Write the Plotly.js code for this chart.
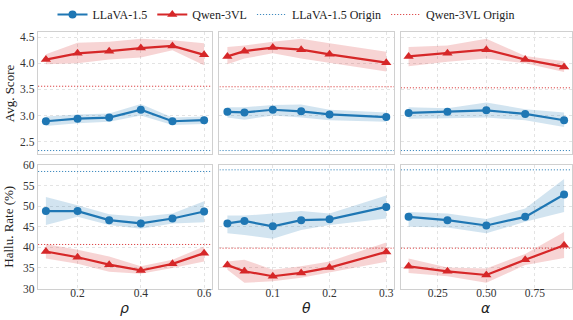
<!DOCTYPE html>
<html><head><meta charset="utf-8">
<script src="https://cdn.plot.ly/plotly-3.0.1.min.js"></script>
<style>html,body{margin:0;padding:0;background:#fff}#c{width:573px;height:320px}</style>
</head><body><div id="c"></div>
<script>
// ---- data ----
const rho = [0.1, 0.2, 0.3, 0.4, 0.5, 0.6];
const theta = [0.02, 0.05, 0.1, 0.15, 0.2, 0.3];
const alpha = [0.1, 0.3, 0.5, 0.7, 0.9];

// Avg. Score
const llavaScoreRho = [2.89, 2.94, 2.96, 3.11, 2.89, 2.91];
const llavaScoreRhoLo = [2.80, 2.85, 2.88, 3.00, 2.82, 2.84];
const llavaScoreRhoHi = [2.98, 3.02, 3.04, 3.22, 2.96, 2.98];
const qwenScoreRho = [4.07, 4.19, 4.23, 4.29, 4.33, 4.16];
const qwenScoreRhoLo = [3.98, 4.00, 4.07, 4.11, 4.25, 3.96];
const qwenScoreRhoHi = [4.17, 4.39, 4.41, 4.47, 4.44, 4.38];

const llavaScoreTheta = [3.07, 3.06, 3.11, 3.08, 3.02, 2.97];
const llavaScoreThetaLo = [2.96, 2.92, 3.00, 2.96, 2.91, 2.88];
const llavaScoreThetaHi = [3.16, 3.16, 3.20, 3.21, 3.11, 3.06];
const qwenScoreTheta = [4.13, 4.23, 4.30, 4.26, 4.17, 4.01];
const qwenScoreThetaLo = [3.98, 4.09, 4.19, 4.09, 4.00, 3.84];
const qwenScoreThetaHi = [4.31, 4.34, 4.41, 4.47, 4.38, 4.22];

const llavaScoreAlpha = [3.05, 3.07, 3.10, 3.03, 2.91];
const llavaScoreAlphaLo = [2.94, 2.95, 2.96, 2.91, 2.78];
const llavaScoreAlphaHi = [3.16, 3.14, 3.25, 3.12, 3.06];
const qwenScoreAlpha = [4.13, 4.19, 4.26, 4.07, 3.93];
const qwenScoreAlphaLo = [3.94, 4.03, 4.09, 4.00, 3.83];
const qwenScoreAlphaHi = [4.31, 4.34, 4.47, 4.14, 4.04];

// Hallu. Rate (%)
const llavaHalluRho = [48.8, 48.8, 46.6, 45.8, 47.0, 48.7];
const llavaHalluRhoLo = [45.4, 47.4, 45.4, 44.5, 45.8, 46.1];
const llavaHalluRhoHi = [52.2, 50.2, 48.0, 47.4, 48.2, 51.2];
const qwenHalluRho = [39.0, 37.6, 35.8, 34.4, 36.0, 38.6];
const qwenHalluRhoLo = [37.3, 36.0, 34.1, 33.6, 35.0, 36.6];
const qwenHalluRhoHi = [40.8, 39.4, 37.8, 35.4, 37.0, 40.2];

const llavaHalluTheta = [45.8, 46.4, 45.1, 46.6, 46.8, 49.8];
const llavaHalluThetaLo = [43.4, 43.0, 42.1, 44.2, 45.4, 47.0];
const llavaHalluThetaHi = [47.7, 47.7, 48.2, 48.8, 48.2, 52.6];
const qwenHalluTheta = [35.7, 34.2, 33.0, 33.8, 35.1, 38.9];
const qwenHalluThetaLo = [34.6, 31.4, 31.8, 32.6, 33.8, 36.5];
const qwenHalluThetaHi = [36.6, 37.0, 34.6, 35.4, 36.6, 41.2];

const llavaHalluAlpha = [47.4, 46.6, 45.3, 47.4, 52.8];
const llavaHalluAlphaLo = [45.0, 44.8, 43.4, 46.2, 48.6];
const llavaHalluAlphaHi = [48.6, 48.2, 46.9, 49.4, 56.6];
const qwenHalluAlpha = [35.4, 34.2, 33.3, 37.0, 40.5];
const qwenHalluAlphaLo = [33.8, 33.0, 31.4, 35.7, 37.4];
const qwenHalluAlphaHi = [37.3, 35.1, 34.9, 38.4, 43.7];

// Origin baselines (per panel)
const llavaOriginScore = [2.33, 2.33, 2.33];
const qwenOriginScore = [3.56, 3.55, 3.53];
const llavaOriginHallu = [58.4, 58.8, 58.8];
const qwenOriginHallu = [40.7, 39.8, 39.8];

const seriesNames = ['LLaVA-1.5', 'Qwen-3VL', 'LLaVA-1.5 Origin', 'Qwen-3VL Origin'];
const xLabels = ['ρ', 'θ', 'α'];
const yLabels = ['Avg. Score', 'Hallu. Rate (%)'];

// ---- styling ----
const BLUE = '#1f77b4', RED = '#d62728';
const BLUE_F = 'rgba(31,119,180,0.2)', RED_F = 'rgba(214,39,40,0.2)';
const SERIF = '"Liberation Serif","Times New Roman",serif';
const xRanges = [[0.075, 0.625], [0.006, 0.314], [0.06, 0.94]];
const xTicks = [[0.2, 0.4, 0.6], [0.1, 0.2, 0.3], [0.25, 0.5, 0.75]];
const xFmt = ['.1f', '.1f', '.2f'];
const xDomains = [[0.0663, 0.370], [0.383, 0.688], [0.6995, 0.998]];
const yDomains = [[0.528, 0.916], [0.100, 0.494]];
const yRanges = [[2.26, 4.59], [30, 60]];

const xs = [rho, theta, alpha];
const score = [
  [llavaScoreRho, llavaScoreRhoLo, llavaScoreRhoHi, qwenScoreRho, qwenScoreRhoLo, qwenScoreRhoHi],
  [llavaScoreTheta, llavaScoreThetaLo, llavaScoreThetaHi, qwenScoreTheta, qwenScoreThetaLo, qwenScoreThetaHi],
  [llavaScoreAlpha, llavaScoreAlphaLo, llavaScoreAlphaHi, qwenScoreAlpha, qwenScoreAlphaLo, qwenScoreAlphaHi]];
const hallu = [
  [llavaHalluRho, llavaHalluRhoLo, llavaHalluRhoHi, qwenHalluRho, qwenHalluRhoLo, qwenHalluRhoHi],
  [llavaHalluTheta, llavaHalluThetaLo, llavaHalluThetaHi, qwenHalluTheta, qwenHalluThetaLo, qwenHalluThetaHi],
  [llavaHalluAlpha, llavaHalluAlphaLo, llavaHalluAlphaHi, qwenHalluAlpha, qwenHalluAlphaLo, qwenHalluAlphaHi]];
const origins = [[llavaOriginScore, qwenOriginScore], [llavaOriginHallu, qwenOriginHallu]];

const traces = [];
const layout = {
  width: 573, height: 320, margin: {l: 0, r: 0, t: 0, b: 0},
  paper_bgcolor: '#fff', plot_bgcolor: '#fff', showlegend: true,
  font: {family: SERIF, size: 11, color: '#333'},
  legend: {orientation: 'h', x: 0.5, xanchor: 'center', y: 1.02, yanchor: 'top',
           font: {family: SERIF, size: 12, color: '#222'}, itemwidth: 30, traceorder: 'normal'},
  annotations: []
};

function band(x, lo, hi, color, xa, ya) {
  traces.push({x: x.concat(x.slice().reverse()), y: hi.concat(lo.slice().reverse()),
    fill: 'toself', fillcolor: color, line: {width: 0}, mode: 'lines',
    xaxis: xa, yaxis: ya, showlegend: false, hoverinfo: 'skip'});
}

const DOT = '1.2px,1.8px';
let axIdx = 0;
for (let r = 0; r < 2; r++) {
  const data = r === 0 ? score : hallu;
  for (let c = 0; c < 3; c++) {
    axIdx++;
    const xa = 'x' + (axIdx === 1 ? '' : axIdx), ya = 'y' + (axIdx === 1 ? '' : axIdx);
    const xk = 'xaxis' + (axIdx === 1 ? '' : axIdx), yk = 'yaxis' + (axIdx === 1 ? '' : axIdx);
    const d = data[c], x = xs[c];
    const first = (axIdx === 1);
    band(x, d[1], d[2], BLUE_F, xa, ya);
    band(x, d[4], d[5], RED_F, xa, ya);
    traces.push({x: [xRanges[c][0], xRanges[c][1]], y: [origins[r][0][c], origins[r][0][c]],
      mode: 'lines', line: {color: BLUE, width: 1, dash: DOT}, name: seriesNames[2],
      legendrank: 3, showlegend: first, xaxis: xa, yaxis: ya, opacity: 0.85});
    traces.push({x: [xRanges[c][0], xRanges[c][1]], y: [origins[r][1][c], origins[r][1][c]],
      mode: 'lines', line: {color: RED, width: 1, dash: DOT}, name: seriesNames[3],
      legendrank: 4, showlegend: first, xaxis: xa, yaxis: ya, opacity: 0.85});
    traces.push({x: x, y: d[0], mode: 'lines+markers', line: {color: BLUE, width: 2.2},
      marker: {symbol: 'circle', size: 8, color: BLUE}, name: seriesNames[0], legendrank: 1,
      showlegend: first, xaxis: xa, yaxis: ya});
    traces.push({x: x, y: d[3], mode: 'lines+markers', line: {color: RED, width: 2.2},
      marker: {symbol: 'triangle-up', size: 9, color: RED}, name: seriesNames[1], legendrank: 2,
      showlegend: first, xaxis: xa, yaxis: ya});
    layout[xk] = {domain: xDomains[c], range: xRanges[c], anchor: ya, tickvals: xTicks[c],
      tickformat: xFmt[c], showticklabels: r === 1, ticks: '', ticklabelstandoff: -7,
      showgrid: true, gridcolor: '#e3e3e3', griddash: 'dot', gridwidth: 1, zeroline: false,
      showline: true, mirror: true, linecolor: '#d0d0d0', linewidth: 1.2,
      tickfont: {family: SERIF, size: 11.5, color: '#333'}};
    layout[yk] = {domain: yDomains[r], range: yRanges[r], anchor: xa, dtick: r === 0 ? 0.5 : 5,
      tick0: r === 0 ? 2.5 : 30, tickformat: r === 0 ? '.1f' : 'd',
      showticklabels: c === 0, ticks: '', showgrid: true, gridcolor: '#e3e3e3', griddash: 'dot',
      gridwidth: 1, zeroline: false, showline: true, mirror: true, linecolor: '#d0d0d0',
      linewidth: 1.2, tickfont: {family: SERIF, size: 11.5, color: '#333'}};
  }
}
// axis titles
for (let r = 0; r < 2; r++) {
  layout.annotations.push({text: yLabels[r], xref: 'paper', yref: 'paper', x: 9 / 573,
    y: (yDomains[r][0] + yDomains[r][1]) / 2, xanchor: 'center', yanchor: 'middle',
    textangle: -90, showarrow: false, font: {family: SERIF, size: 13, color: '#222'}});
}
for (let c = 0; c < 3; c++) {
  layout.annotations.push({text: '<i>' + xLabels[c] + '</i>', xref: 'paper', yref: 'paper',
    x: (xDomains[c][0] + xDomains[c][1]) / 2, y: 1 - 308 / 320, xanchor: 'center',
    yanchor: 'middle', showarrow: false,
    font: {family: '"DejaVu Sans",sans-serif', size: 14, color: '#222'}});
}
Plotly.newPlot('c', traces, layout, {staticPlot: true, displayModeBar: false});
</script></body></html>
